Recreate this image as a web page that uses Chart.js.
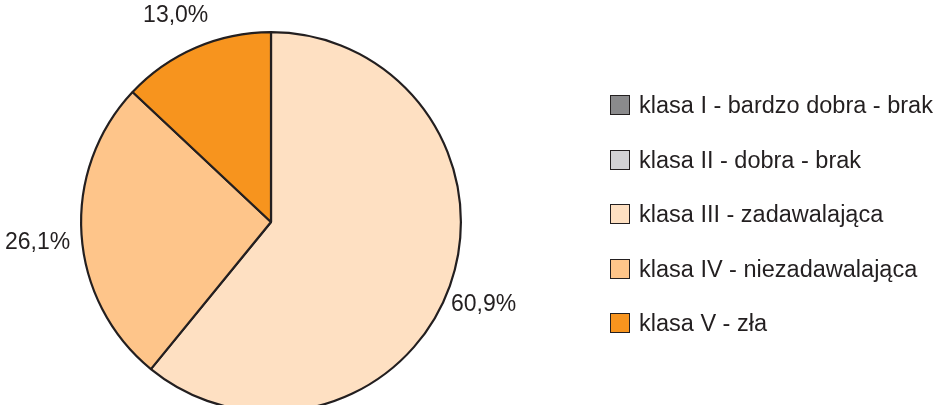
<!DOCTYPE html>
<html><head><meta charset="utf-8">
<script src="https://cdn.jsdelivr.net/npm/chart.js@4"></script>
<style>
html,body{margin:0;padding:0;background:#fff;overflow:hidden;width:943px;height:405px;}
#wrap{position:absolute;left:0;top:0;width:943px;height:460px;}
#legend{position:absolute;left:610px;top:95px;font-family:"Liberation Sans",Arial,sans-serif;font-size:23.5px;color:#231f20;}
.item{position:relative;height:54.5px;white-space:nowrap;}
.box{position:absolute;left:0;top:0;width:18px;height:18px;border:1.5px solid #231f20;}
.lbl{position:absolute;left:29px;top:-2px;line-height:24px;}
</style></head>
<body>
<div id="wrap"><canvas id="c" width="943" height="460"></canvas></div>
<div id="legend"></div>
<script>
const categories = ["klasa I - bardzo dobra - brak","klasa II - dobra - brak","klasa III - zadawalająca","klasa IV - niezadawalająca","klasa V - zła"];
const values = [0, 0, 60.9, 26.1, 13.0];
const colors = ["#8a8a8c","#d3d3d5","#fee0c2","#fec58a","#f7941e"];

const lg = document.getElementById('legend');
categories.forEach((c,i)=>{
  const d=document.createElement('div');d.className='item';
  d.innerHTML='<div class="box" style="background:'+colors[i]+'"></div><div class="lbl"></div>';
  d.querySelector('.lbl').textContent=c;
  lg.appendChild(d);
});

const labelPlugin = {
  id:'outLabels',
  afterDatasetsDraw(chart){
    const ctx=chart.ctx;
    const meta=chart.getDatasetMeta(0);
    ctx.save();
    ctx.font='23px "Liberation Sans", Arial, sans-serif';
    ctx.fillStyle='#231f20';
    ctx.textAlign='center';ctx.textBaseline='middle';
    meta.data.forEach((arc,i)=>{
      const v=values[i]; if(!v) return;
      const p=arc.getProps(['x','y','startAngle','endAngle','outerRadius'],true);
      const a=(p.startAngle+p.endAngle)/2;
      const r=p.outerRadius+40;
      const x=p.x+Math.cos(a)*r-4, y=p.y+Math.sin(a)*r+5;
      ctx.fillText(v.toFixed(1).replace('.',',')+'%',x,y);
    });
    ctx.restore();
  }
};

new Chart(document.getElementById('c'),{
  type:'pie',
  data:{labels:categories,datasets:[{data:values,backgroundColor:colors,borderColor:'#231f20',borderWidth:2.2}]},
  options:{
    responsive:false,animation:false,
    layout:{padding:{left:80,top:31,right:481,bottom:47}},
    plugins:{legend:{display:false},tooltip:{enabled:false}}
  },
  plugins:[labelPlugin]
});
</script>
</body></html>
